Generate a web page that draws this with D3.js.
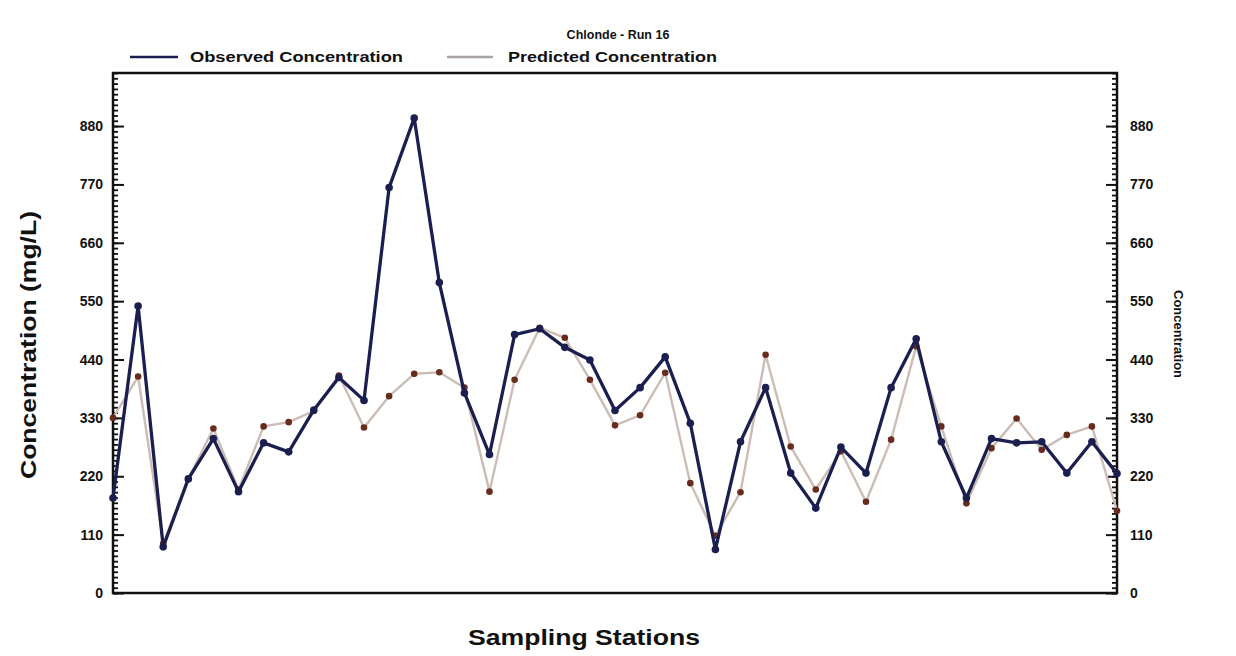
<!DOCTYPE html>
<html>
<head>
<meta charset="utf-8">
<script src="https://cdn.jsdelivr.net/npm/d3@7"></script>
<style>
  html, body { margin: 0; padding: 0; background: #ffffff; }
  svg { display: block; font-family: "Liberation Sans", Arial, sans-serif; }
</style>
</head>
<body>
<svg id="chart" width="1236" height="656"></svg>
<script>
// Sampling stations 1..41 along the x axis
const stations = d3.range(41);

// Observed chloride concentration (mg/L) per station
const observed = [179, 541, 87, 215, 291, 191, 283, 266, 345, 406,
                  363, 764, 895, 585, 377, 261, 487, 498, 463, 439,
                  344, 387, 445, 320, 82, 285, 387, 226, 160, 275,
                  226, 387, 479, 285, 179, 291, 283, 285, 226, 285, 225];

// Predicted chloride concentration (mg/L) per station
const predicted = [330, 408, 93, 215, 310, 195, 314, 322, 343, 410,
                   312, 371, 413, 416, 387, 191, 402, 500, 481, 402,
                   316, 335, 415, 207, 108, 190, 449, 276, 195, 267,
                   172, 289, 465, 314, 169, 273, 329, 270, 298, 314, 155];

const yTicks = [0, 110, 220, 330, 440, 550, 660, 770, 880];
const yMax = 980;

const svg = d3.select("#chart");
const plotLeft = 113, plotRight = 1117, plotTop = 73, plotBottom = 593;

const x = d3.scaleLinear().domain([0, stations.length - 1]).range([plotLeft, plotRight]);
const y = d3.scaleLinear().domain([0, yMax]).range([plotBottom, plotTop]);

const obsColor = "#1b1f4f";
const predLine = "#cbbdb5";
const predDot = "#6a2b1f";

// Plot frame
svg.append("rect")
  .attr("x", plotLeft).attr("y", plotTop)
  .attr("width", plotRight - plotLeft).attr("height", plotBottom - plotTop)
  .attr("fill", "#ffffff")
  .attr("stroke", "#111").attr("stroke-width", 2.5);

// Minor ticks every 10 mg/L on both vertical axes
const minor = d3.range(0, yMax + 1, 10);
const leftAxis = d3.axisRight(y).tickValues(minor).tickSize(5).tickFormat("");
const rightAxis = d3.axisLeft(y).tickValues(minor).tickSize(5).tickFormat("");
svg.append("g").attr("transform", `translate(${plotLeft},0)`).call(leftAxis)
  .call(g => g.select(".domain").remove())
  .selectAll("line").attr("stroke", "#111").attr("stroke-width", 1.8);
svg.append("g").attr("transform", `translate(${plotRight},0)`).call(rightAxis)
  .call(g => g.select(".domain").remove())
  .selectAll("line").attr("stroke", "#111").attr("stroke-width", 1.8);

// Major ticks with labels
const leftMajor = d3.axisRight(y).tickValues(yTicks).tickSize(11).tickFormat("");
const rightMajor = d3.axisLeft(y).tickValues(yTicks).tickSize(11).tickFormat("");
svg.append("g").attr("transform", `translate(${plotLeft},0)`).call(leftMajor)
  .call(g => g.select(".domain").remove())
  .selectAll("line").attr("stroke", "#111").attr("stroke-width", 2);
svg.append("g").attr("transform", `translate(${plotRight},0)`).call(rightMajor)
  .call(g => g.select(".domain").remove())
  .selectAll("line").attr("stroke", "#111").attr("stroke-width", 2);

svg.append("g").selectAll("text").data(yTicks).join("text")
  .attr("x", 103).attr("y", d => y(d)).attr("dy", "0.36em")
  .attr("text-anchor", "end")
  .attr("font-size", 14).attr("font-weight", "bold").attr("fill", "#111")
  .text(d => d);
svg.append("g").selectAll("text").data(yTicks).join("text")
  .attr("x", 1130).attr("y", d => y(d)).attr("dy", "0.36em")
  .attr("text-anchor", "start")
  .attr("font-size", 14).attr("font-weight", "bold").attr("fill", "#111")
  .text(d => d);

// Series lines
const line = d3.line().x((d, i) => x(i)).y(d => y(d));

svg.append("path").datum(predicted)
  .attr("d", line).attr("fill", "none")
  .attr("stroke", predLine).attr("stroke-width", 2.4)
  .attr("stroke-linejoin", "round");
svg.append("g").selectAll("circle").data(predicted).join("circle")
  .attr("cx", (d, i) => x(i)).attr("cy", d => y(d)).attr("r", 3.3)
  .attr("fill", predDot);

svg.append("path").datum(observed)
  .attr("d", line).attr("fill", "none")
  .attr("stroke", obsColor).attr("stroke-width", 3.3)
  .attr("stroke-linejoin", "round");
svg.append("g").selectAll("circle").data(observed).join("circle")
  .attr("cx", (d, i) => x(i)).attr("cy", d => y(d)).attr("r", 3.8)
  .attr("fill", obsColor);

// Title and legend
svg.append("text").attr("x", 618).attr("y", 39)
  .attr("text-anchor", "middle").attr("font-size", 12.5).attr("font-weight", "bold")
  .attr("fill", "#111").text("Chlonde - Run 16");

const legend = [
  { label: "Observed Concentration", color: obsColor, x1: 130, x2: 178, tx: 190, len: 213 },
  { label: "Predicted Concentration", color: "#a9a4a2", x1: 447, x2: 493, tx: 508, len: 209 }
];
legend.forEach(l => {
  svg.append("line").attr("x1", l.x1).attr("x2", l.x2).attr("y1", 57).attr("y2", 57)
    .attr("stroke", l.color).attr("stroke-width", 2.5);
  svg.append("text").attr("x", l.tx).attr("y", 62)
    .attr("font-size", 14.5).attr("font-weight", "bold").attr("fill", "#111")
    .attr("textLength", l.len).attr("lengthAdjust", "spacingAndGlyphs")
    .text(l.label);
});

// Axis titles
svg.append("text")
  .attr("transform", `translate(36,345) rotate(-90)`)
  .attr("text-anchor", "middle").attr("font-size", 22).attr("font-weight", "bold")
  .attr("textLength", 268).attr("lengthAdjust", "spacingAndGlyphs")
  .attr("fill", "#111").text("Concentration (mg/L)");

svg.append("text")
  .attr("transform", `translate(1174,334) rotate(90)`)
  .attr("text-anchor", "middle").attr("font-size", 12.5).attr("font-weight", "bold")
  .attr("textLength", 88).attr("lengthAdjust", "spacingAndGlyphs")
  .attr("fill", "#111").text("Concentration");

svg.append("text").attr("x", 584).attr("y", 645)
  .attr("text-anchor", "middle").attr("font-size", 22).attr("font-weight", "bold")
  .attr("textLength", 232).attr("lengthAdjust", "spacingAndGlyphs")
  .attr("fill", "#111").text("Sampling Stations");
</script>
</body>
</html>
